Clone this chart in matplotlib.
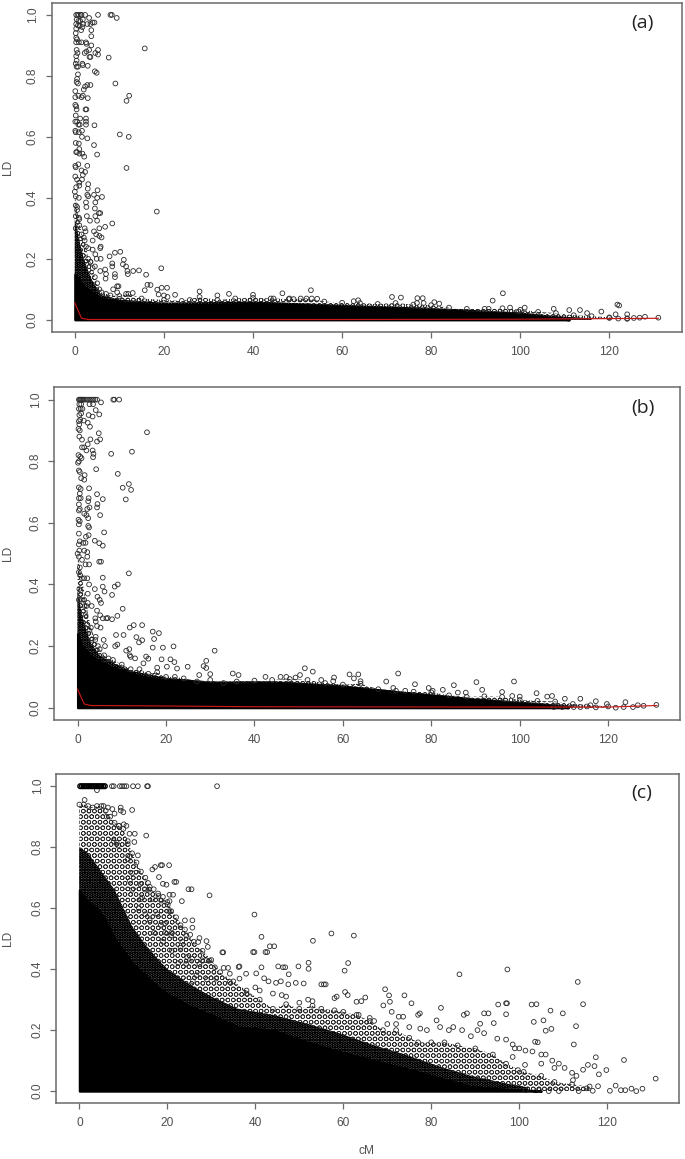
import numpy as np
import matplotlib
matplotlib.use("Agg")
import matplotlib.pyplot as plt

W, H = 685, 1159
plt.rcParams['font.family'] = ['Liberation Sans', 'DejaVu Sans']
plt.rcParams['hatch.linewidth'] = 0.5

X_TICKS = [0, 20, 40, 60, 80, 100, 120]
Y_TICKS = [0.0, 0.2, 0.4, 0.6, 0.8, 1.0]

# ---------- panel (a) ----------
A_POINTS = [(0.3,1),(0.6,1),(0.9,1),(1.3,1),(1.5,1),(2.3,1),(5.2,1),(8.0,1),(8.3,1),(9.4,.99),(3.2,.99),(3.5,.97),(2.8,.97),(1.8,.985),(0.4,.985),(0.8,.98),(1.2,.98),(0.3,.97),(0.7,.965),(1.1,.965),(1.8,.97),(4,.975),(4.4,.975),(0.3,.955),(1.4,.95),(1.7,.96),(3.7,.95),(3.7,.93),(0.2,.94),(.3,.925),(.5,.92),(.3,.91),(.9,.91),(1.5,.91),(2.5,.91),(2.6,.905),(3.7,.9),(5.2,.885),(4.6,.875),(5.2,.87),(2.6,.88),(3.2,.885),(.4,.885),(.6,.875),(.3,.865),(.4,.85),(3.5,.862),(3.3,.862),(2.2,.875),(1.7,.84),(1.8,.835),(.2,.84),(.4,.83),(.7,.83),(2.9,.833),(4.5,.815),(4.9,.81),(.7,.805),(.5,.79),(.4,.78),(.7,.775),(2.8,.77),(2.3,.765),(3.5,.77),(2,.755),(.1,.75),(.8,.735),(1.5,.73),(1.8,.735),(.1,.73),(2.9,.727),(2.4,.69),(2.6,.69),(.1,.705),(.3,.7),(.4,.69),(.2,.67),(2.5,.65),(2.5,.66),(2.5,.64),(1.2,.66),(.1,.65),(.5,.65),(.8,.64),(1.1,.64),(4.4,.638),(.1,.62),(1.6,.62),(.9,.615),(.2,.615),(1.6,.6),(2.8,.595),(.2,.58),(.9,.578),(4.3,.573),(1,.56),(.3,.55),(.5,.55),(1,.545),(5,.542),(1.7,.545),(2.1,.535),(.1,.505),(.2,.5),(.8,.51),(2.8,.505),(1.5,.49),(2.3,.485),(1.8,.475),(.1,.47),(.5,.46),(1,.45),(1.6,.46),(.3,.435),(1,.44),(3,.445),(2.9,.43),(5.1,.425),(2.8,.41),(3,.405),(4.3,.41),(.2,.405),(.9,.4),(5,.4),(6.1,.403),(4.6,.385),(2.5,.385),(.2,.375),(.5,.37),(2.6,.37),(4.5,.365),(.2,.34),(.9,.335),(2.7,.34),(3.4,.325),(4.6,.34),(5.4,.35),(5.7,.35),(5,.325),(5.5,.3),(6.8,.305),(.2,.3),(1,.31),(2.2,.3),(2.4,.29),(4.3,.29),(4.8,.28),(5.5,.275),(6,.27),(2.2,.26),(4,.26),(5.8,.24),(5.7,.235),(4,.23),(3,.235),(4.6,.215),(4.9,.2),(5.8,.2),(3.5,.19),(4.5,.175),(6.8,.165),(7,.15),(6.9,.135),(5.7,.16),
(15.7,.89),(7.6,.86),(9.1,.775),(12.2,.735),(11.6,.718),(10.1,.608),(12.1,.6),(11.6,.498),(18.4,.355),(8.4,.316),(10.2,.223),(9,.22),(7.8,.208),(8.4,.185),(8.4,.175),(11,.197),(10.8,.182),(11.5,.175),(11.8,.16),(11.9,.15),(13.1,.16),(14.4,.162),(16,.148),(19.4,.169),(9,.15),(9,.14),(9.5,.11),(9.8,.11),(16.3,.115),(17,.114),(15.7,.097),(18.5,.099),(19.5,.105),(20.7,.105),(28,.093),(22.5,.082),(18.8,.083),(20,.08),(20.8,.075),(25.8,.065),(32,.08),(34.6,.085),(8.6,.1),(9.5,.09),(11.5,.085),(13,.088),
(53,.097),(46.6,.087),(40,.082),(71.2,.075),(73.2,.073),(76.9,.071),(78.1,.071),(76.8,.055),(78.3,.055),(80.7,.058),(81.8,.053),(96.1,.087),(93.8,.063),(63.6,.064),(62.6,.061),(50.7,.07),(53.2,.07),(54.4,.069),(48.2,.07),(49.1,.068),(44.6,.07),(121.8,.05),(122.2,.047),(107.5,.036),(111,.032),(113.4,.032),(115,.022),(118.2,.027),(121.4,.018),(124,.018),(125.5,.006),(126.8,.007),(128,.01),(131,.007),(120,.006),(122,.004),(124,.003),(101,.04),(97.7,.04),(99.7,.027),(92.9,.036)]
A_FRINGE_X = [0,.5,1,1.5,2,2.5,3,3.5,4,4.5,5,5.5,6,7,8,10,12,15,20,24,28,32,36,40,44,48,52,56,60,64,68,72,76,80,84,88,92,96,100,104,108,112,116,120,124]
A_FRINGE_Y = [.42,.36,.33,.28,.27,.24,.2,.19,.17,.14,.12,.1,.09,.085,.08,.078,.085,.07,.065,.062,.075,.065,.07,.072,.07,.068,.07,.06,.056,.055,.052,.055,.05,.048,.04,.036,.036,.038,.033,.026,.022,.015,.012,.008,.005]
A_MID_X = [0,1,2,3,4,6,10,20,40,60,80,100,108,116]
A_MID_Y = [.33,.26,.2,.16,.125,.08,.066,.056,.06,.049,.039,.024,.012,.004]
A_CORE_X = [0,2,4,6,10,15,20,30,40,50,60,70,80,90,100,105,108,111]
A_CORE_Y = [.15,.11,.09,.07,.06,.052,.05,.05,.053,.05,.043,.038,.033,.025,.018,.01,.005,.0]
A_RED_X = [0,1.5,3,20,60,100,131]
A_RED_Y = [.055,.005,.001,.001,.001,.002,.005]

# ---------- panel (b) ----------
B_POINTS = [(.3,1),(.5,1),(.7,1),(.9,1),(1.1,1),(1.3,1),(1.6,1),(2,1),(2.4,1),(2.8,1),(3.2,1),(3.6,1),(4,1),(4.4,1),(8.07,1),(8.3,1),(9.4,1),(5.3,.991),(4.1,.966),(3.5,.985),(2.7,.985),(.4,.985),(.8,.985),(.3,.97),(.7,.97),(1.1,.97),(.4,.95),(.8,.955),(2.5,.95),(3.4,.945),(4.9,.952),(.3,.93),(.6,.935),(1.4,.932),(2.3,.925),(2.8,.912),(.2,.905),(.5,.9),(.4,.92),(.4,.88),(2.9,.871),(5.1,.871),(4.8,.891),(4.4,.864),(1,.87),(2.3,.855),(1,.845),(1.5,.845),(2,.835),(3.4,.835),(3.5,.813),(3.6,.824),(.2,.82),(.6,.815),(.9,.81),(.1,.795),(.3,.8),(4.2,.774),(.3,.77),(.5,.765),(1.6,.755),(.8,.745),(1.5,.74),(2.6,.712),(.3,.715),(.7,.71),(.5,.695),(.3,.68),(.7,.68),(2.5,.68),(4.4,.693),(2.4,.67),(.3,.66),(.5,.645),(.3,.64),(4.5,.661),(4.4,.65),(5.7,.677),(2.7,.65),(2.2,.645),(1.5,.63),(2,.625),(5.1,.625),(2.4,.615),(.2,.61),(.5,.605),(.3,.595),(2.4,.59),(2.6,.585),(.3,.565),(1.9,.555),(2.5,.56),(.5,.54),(1.3,.535),(1.8,.535),(.3,.53),(6,.569),(3.9,.542),(4.9,.534),(5.7,.526),(.4,.51),(1.5,.51),(2.2,.505),(2.2,.49),(.3,.49),(1,.48),(4.9,.474),(5.3,.474),(1.8,.465),(2.6,.465),(.5,.455),(.3,.44),(.6,.43),(1.5,.42),(2.2,.42),(5.7,.422),(5.7,.393),(6.1,.377),(2.6,.4),(.4,.385),(.7,.38),(2.3,.37),(3.9,.385),(.3,.35),(.7,.35),(1.5,.35),(2.3,.34),(4.5,.36),(5,.35),(5.3,.34),(1.6,.33),(3.2,.33),(1.8,.3),(4.4,.315),(5.1,.3),(4,.29),(4.1,.28),(5.7,.29),(6.5,.29),(4.4,.265),(5.2,.26),(2.2,.27),(2.7,.25),(3.2,.22),(4.1,.23),(5.9,.22),(6.2,.2),(4.6,.2),
(15.7,.894),(7.6,.824),(12.3,.831),(9.1,.759),(11.6,.726),(10.2,.714),(12.1,.707),(10.9,.676),(11.6,.436),(9.1,.4),(8.4,.393),(7.8,.366),(10.2,.321),(9,.298),(7.8,.287),(6.8,.291),(14.6,.268),(12.7,.268),(11.8,.26),(17,.247),(18.4,.242),(17.3,.223),(21.7,.199),(19.3,.195),(17,.195),(13.3,.229),(14.6,.219),(13.9,.212),(10.4,.236),(8.7,.236),(31,.185),(29.1,.152),(28.5,.135),(29.1,.129),(24.9,.133),(21,.157),(21.9,.148),(19,.157),(15.5,.166),(16,.159),(14.9,.144),(20.2,.133),(22.5,.127),(30,.109),(35.1,.111),(27.5,.106),(36.4,.106),(8.5,.2),(9,.205),(11,.185),(11.7,.19),(11.8,.17),(12,.165),(13,.16),(18,.13),
(51.4,.128),(53.2,.117),(72.5,.111),(61.5,.108),(63.5,.108),(62.5,.095),(64,.086),(58,.098),(42.5,.1),(45.9,.1),(47.2,.1),(50.3,.106),(49.3,.098),(55.1,.09),(57.8,.086),(69.8,.085),(90.2,.083),(98.7,.085),(85.1,.073),(76.3,.076),(71.4,.064),(79.4,.064),(82.6,.058),(80.3,.055),(91.5,.058),(74.1,.055),(96,.051),(86,.049),(87.8,.049),(103.8,.047),(98.3,.038),(100,.036),(106.2,.036),(107.3,.038),(110.2,.029),(113.7,.029),(117.2,.021),(119.7,.012),(123.9,.018),(126.7,.008),(128,.006),(130.9,.009),(125.6,.002),(121.7,0),(117.2,.001),(113.7,.002),(112.2,.002),(109.6,.002),(107.7,.002),(115.2,.004),(123.5,.002)]
B_FRINGE_X = [0,1,2,3,4,5,6,7,8,10,12,14,16,18,20,22,24,27,30,33,36,40,44,48,52,56,60,64,68,72,76,80,84,88,92,96,100,104,108,112,116,120]
B_FRINGE_Y = [.5,.42,.33,.26,.22,.19,.17,.16,.155,.14,.125,.125,.11,.115,.1,.1,.095,.085,.09,.08,.085,.088,.09,.093,.09,.08,.075,.078,.06,.055,.052,.05,.04,.035,.037,.035,.025,.022,.02,.012,.008,.004]
B_MID_X = [0,1,2,3,5,8,12,20,30,44,59,75,90,105,112]
B_MID_Y = [.38,.3,.25,.21,.17,.145,.12,.097,.085,.086,.074,.05,.03,.014,.006]
B_CORE_X = [0,1,3,5,8,10,15,20,30,36,44,52,59,67,75,82,90,97,105,108,111]
B_CORE_Y = [.24,.2,.17,.15,.13,.12,.1,.09,.08,.076,.079,.075,.068,.058,.047,.037,.025,.017,.009,.005,.0]
B_RED_X = [0,1.5,3,15,40,100,120,131]
B_RED_Y = [.06,.012,.007,.006,.003,.002,.002,.007]

# ---------- panel (c) ----------
C_POINTS = [(7.4,1),(7.8,1),(9.2,1),(9.7,1),(10.2,1),(10.7,1),(12.2,1),(13.3,1),(15.4,1),(15.6,1),(31.3,1),(4,.987),(1.2,.955),(12,.922),(15.2,.838),(18.5,.741),(18.8,.741),(20.4,.741),(29.6,.642),(21.6,.686),(22,.686),(24.8,.662),(25.5,.662),(23.3,.623),(20.5,.623),(13.3,.773),(12.5,.817),(11.4,.844),(12.6,.844),(16.6,.727),(17.2,.735),(18.1,.702),(19,.68),(19.8,.677),(15.6,.683),(13.9,.679),(14.9,.661),(15.9,.661),(16.9,.662),(17.9,.648),(19,.637),(21.3,.644),(20.5,.644),(18.6,.625),(16.6,.63),(14.3,.635),(20.5,.59),(20.9,.59),(20.1,.611),(17.7,.58),(25.7,.56),(24,.56),(23,.544),(25.7,.536),(27.3,.502),(28.9,.492),(29.2,.473),(27,.489),(25.2,.513),(24.3,.51),(23.4,.49),(32.5,.455),(32.7,.455),(30.8,.406),(32.8,.404),(33.8,.404),(36.2,.407),(27.9,.429),(28.9,.429),(29.6,.428),(25.7,.434),(27.3,.416),(24.3,.418),(26.6,.38),(29,.366),(31.1,.369),(25.8,.36),(34.2,.385),(34.2,.358),(36.4,.369),(20.9,.511),(19.5,.55),(18.5,.545),(16,.56),(15,.58),(13.5,.6),(14,.63),(12,.66),(11.5,.69),(12,.715),(11,.76),(11.5,.77),(10.7,.87),(10.1,.875),(9,.87),(9.4,.93),(9.4,.92),(10,.915),(7.5,.925),(6.5,.93),(5.5,.935),(6.2,.9),(8,.91),(7.8,.82),(8.5,.815),(8.8,.805),(11,.81),(19.5,.52),(17,.52),(21,.52),(19,.49),(21,.46),(23,.47),(24.5,.44),(22.5,.42),
(39.8,.579),(41.4,.506),(43.3,.475),(44.3,.475),(39.5,.456),(39.8,.456),(42.3,.456),(42.7,.456),(53.1,.493),(57.3,.517),(62.4,.51),(61.1,.42),(60.3,.395),(52.1,.421),(52.1,.401),(49.8,.409),(46.8,.406),(46.3,.406),(45.2,.409),(41.4,.406),(36.4,.409),(47.6,.383),(40.2,.386),(37.9,.385),(42,.37),(43,.36),(44.7,.355),(45.8,.36),(47.5,.35),(49.2,.355),(51,.353),(55,.35),(55.6,.35),(56,.35),(40,.34),(38,.32),(41,.33),(44,.32),(46,.315),(47,.31),(50,.29),(52,.3),(53,.295),(58,.305),(58.5,.31),(60.4,.325),(61,.315),(65,.307),(64.1,.295),(63,.293),(69.5,.334),(86.4,.383),(97.3,.399),(113.3,.358),(114.5,.285),(97,.288),(97.2,.288),(95.2,.284),(102.8,.284),(103.9,.285),(107.1,.264),(109.9,.255),(97,.252),(92,.255),(93,.255),(88.1,.255),(87.4,.25),(82.2,.273),(75.5,.288),(73.9,.314),(70.4,.314),(69.1,.281),(70.6,.293),(71,.26),(72.6,.244),(73.6,.244),(77.4,.255),(77,.25),(81.2,.232),(91.1,.221),(94.2,.223),(103.3,.227),(105.5,.232),(112.9,.213),(106,.198),(107.3,.204),(112.4,.153),(103.6,.162),(104.2,.16),(95,.172),(97,.169),(98.5,.153),(117.4,.111),(123.8,.102),(119.8,.069),(114.5,.07),(115.6,.086),(117.1,.082),(118.1,.055),(131,.041),(128,.008),(126.6,0),(125.5,.008),(124.1,.003),(123.1,.003),(121.9,.018),(120.6,.001),(117.9,.016),(110.3,.076),(108,.076),(105,.12),(105,.09),(101.4,.133),(101.3,.086),(99.7,.069),(98.5,.112),(112.2,.036),(115.3,.009),(113.5,0),(109,0),(106.7,0),(104.5,.003),(101.5,.003),(116.7,.001),(87,.2),(89,.18),(90.5,.2),(92,.19),(85,.21),(84,.2),(82,.21),(79,.2),(77.5,.205),(75,.21),(72,.22),(70,.22),(67,.23),(66,.24),(63.5,.25),(100,.14),(99,.14),(103,.13),(106,.12),(107.5,.1),(109,.09),(112,.06),(113,.05)]
C_TOPROW_X = [.2,.6,1,1.4,1.8,2.2,2.6,3,3.4,3.8,4.2,4.6,5,5.4,5.8]
C_TOPROW_Y = [1,1,1,1,1,1,1,1,1,1,1,1,1,1,1]
C_FRINGE_X = [0,1,2,3,4,5,6,7,8,9,10,11,12,13,14,15,16,18,20,22,24,26,28,30,32,35,38,41,44,47,50,53,55,58,60,63,66,69,72,75,77,80,83,86,90,94,97,101,105,108,112,116]
C_FRINGE_Y = [.94,.94,.935,.93,.935,.935,.92,.9,.88,.87,.86,.82,.78,.75,.72,.7,.67,.64,.62,.57,.53,.49,.46,.43,.39,.36,.33,.3,.27,.285,.27,.28,.27,.265,.26,.25,.23,.2,.2,.175,.16,.16,.16,.15,.14,.12,.09,.063,.05,.03,.022,.015]
C_MID_X = [0,2,4,6,8,10,12,15,18,20,25,30,36,44,52,59,67,74,82,89,97,102]
C_MID_Y = [.8,.78,.74,.7,.66,.6,.54,.48,.43,.4,.35,.31,.27,.25,.22,.19,.15,.12,.08,.05,.025,.012]
C_CORE_X = [0,2,4,6,8,10,12,15,18,20,25,30,36,44,52,59,67,74,82,89,97,102,105]
C_CORE_Y = [.66,.62,.6,.56,.5,.46,.42,.38,.34,.32,.28,.25,.21,.2,.16,.13,.1,.075,.043,.015,.006,.003,.0]

PANELS = [
    dict(box=(51.5, 681.7, 2.7, 332.0), pts=A_POINTS, fx=A_FRINGE_X, fy=A_FRINGE_Y, mx=A_MID_X, my=A_MID_Y,
         cx=A_CORE_X, cy=A_CORE_Y, rx=A_RED_X, ry=A_RED_Y, tag='(a)', tagpos=(642, 23), ly=167),
    dict(box=(54.4, 680.0, 387.3, 720.0), pts=B_POINTS, fx=B_FRINGE_X, fy=B_FRINGE_Y, mx=B_MID_X, my=B_MID_Y,
         cx=B_CORE_X, cy=B_CORE_Y, rx=B_RED_X, ry=B_RED_Y, tag='(b)', tagpos=(643, 408), ly=553),
    dict(box=(56.3, 678.7, 774.0, 1103.3), pts=C_POINTS, fx=C_FRINGE_X, fy=C_FRINGE_Y, mx=C_MID_X, my=C_MID_Y,
         cx=C_CORE_X, cy=C_CORE_Y, rx=None, ry=None, tag='(c)', tagpos=(642, 793), ly=938),
]

GREY = '#6a6a6a'
TXT = '#505050'
MARK = '#2a2a2a'

fig = plt.figure(figsize=(W / 100, H / 100), dpi=100, facecolor='white')

for p in PANELS:
    l, r, t, b = p['box']
    ax = fig.add_axes([l / W, 1 - b / H, (r - l) / W, (b - t) / H])
    ax.set_xlim(-5.24, 136.24)
    ax.set_ylim(-0.04, 1.04)
    ax.set_xticks(X_TICKS)
    ax.set_yticks(Y_TICKS)
    ax.set_yticklabels([f'{v:.1f}' for v in Y_TICKS], rotation=90, va='center')
    ax.tick_params(axis='both', length=4, width=0.9, color=GREY, labelcolor=TXT, labelsize=8.6)
    ax.tick_params(axis='x', pad=6)
    ax.tick_params(axis='y', pad=5)
    for s in ax.spines.values():
        s.set_color(GREY)
        s.set_linewidth(1.1)

    fx, fy = np.array(p['fx']), np.array(p['fy'])
    mx, my = np.array(p['mx']), np.array(p['my'])
    cx, cy = np.array(p['cx']), np.array(p['cy'])
    ax.fill_between(fx, 0, fy, facecolor='none', edgecolor=MARK, hatch='OOO', linewidth=0, zorder=1)
    ax.fill_between(mx, 0, my, facecolor='#4a4a4a', edgecolor='black', hatch='OOOOO', linewidth=0, zorder=1.5)
    ax.fill_between(cx, 0, cy, facecolor='black', edgecolor='black', linewidth=1.6, zorder=2)
    ax.scatter(fx, fy, s=11.5, facecolors='none', edgecolors=MARK, linewidths=0.6, zorder=3)
    pts = np.array(p['pts'])
    ax.scatter(pts[:, 0], pts[:, 1], s=11.5, facecolors='none', edgecolors=MARK, linewidths=0.6, zorder=3)
    if p['tag'] == '(c)':
        ax.scatter(C_TOPROW_X, C_TOPROW_Y, s=11.5, facecolors='none', edgecolors='black', linewidths=1.0, zorder=3)
    if p['rx'] is not None:
        ax.plot(p['rx'], p['ry'], color='#c81818', lw=0.85, zorder=4)
    fig.text(p['tagpos'][0] / W, 1 - p['tagpos'][1] / H, p['tag'], ha='center', va='center',
             fontsize=14, color='#222222', family=['Open Sans', 'DejaVu Sans'])
    fig.text(7.5 / W, 1 - p['ly'] / H, 'LD', rotation=90, ha='center', va='center', fontsize=8.6, color=TXT)

fig.text(366.5 / W, 1 - 1151.5 / H, 'cM', ha='center', va='center', fontsize=8.6, color=TXT)

fig.savefig('out.png', dpi=100, facecolor='white')
